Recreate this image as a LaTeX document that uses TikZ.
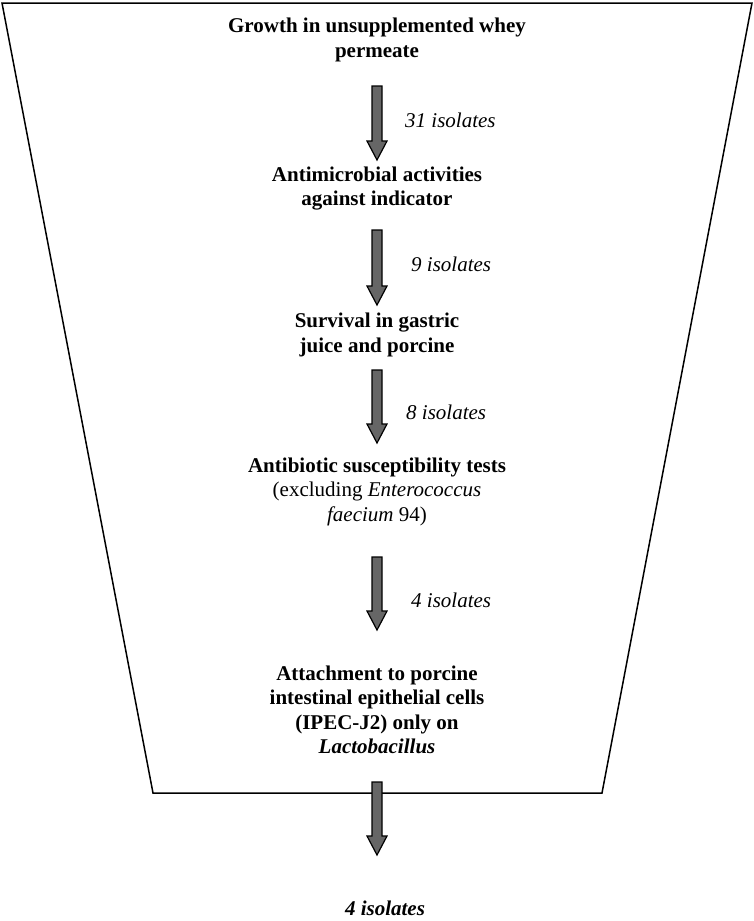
\documentclass[tikz,border=0pt]{standalone}
\usepackage{fontspec}
\setmainfont{Liberation Serif}
\usetikzlibrary{calc}
\definecolor{arrowgray}{RGB}{102,102,102}
\newcommand\blockarr[2]{\draw[blockarrow] ($(#1)+(-5,0)$) -- ($(#2)+(-5,-19)$) -- ($(#2)+(-10,-19)$) -- (#2) -- ($(#2)+(10,-19)$) -- ($(#2)+(5,-19)$) -- ($(#1)+(5,0)$) -- cycle;}
\begin{document}
\begin{tikzpicture}[x=1pt,y=-1pt,
  stage/.style={align=center, font=\bfseries\fontsize{21}{24.5}\selectfont, inner sep=0pt},
  count/.style={font=\itshape\fontsize{21}{24}\selectfont, inner sep=0pt, anchor=west},
  blockarrow/.style={draw=black, line width=1.2pt, fill=arrowgray, line join=miter}]
\useasboundingbox (0,0) rectangle (754,921);
\draw[line width=1.5pt, line join=miter] (2,3) -- (752,3) -- (602,793) -- (153,793) -- cycle;

\node[stage] (s1) at (377,40) {Growth in unsupplemented whey\\permeate};
\node[stage] (s2) at (377,188.5) {Antimicrobial activities\\against indicator};
\node[stage] (s3) at (377,335) {Survival in gastric\\juice and porcine};
\node[stage] (s4) at (377,491.5) {Antibiotic susceptibility tests\\{\mdseries (excluding \textit{Enterococcus}}\\{\mdseries\textit{faecium} 94)}};
\node[stage] (s5) at (377,710) {Attachment to porcine\\intestinal epithelial cells\\(IPEC-J2) only on\\\textit{Lactobacillus}};

\coordinate (a1s) at (377,86);  \coordinate (a1e) at (377,160);
\coordinate (a2s) at (377,230); \coordinate (a2e) at (377,305);
\coordinate (a3s) at (377,370); \coordinate (a3e) at (377,443);
\coordinate (a4s) at (377,557); \coordinate (a4e) at (377,630);
\coordinate (a5s) at (377,782); \coordinate (a5e) at (377,855);
\blockarr{a1s}{a1e}
\blockarr{a2s}{a2e}
\blockarr{a3s}{a3e}
\blockarr{a4s}{a4e}
\blockarr{a5s}{a5e}

\node[count] (c1) at (405,120) {31 isolates};
\node[count] (c2) at (411,264) {9 isolates};
\node[count] (c3) at (406,412) {8 isolates};
\node[count] (c4) at (411,600) {4 isolates};
\node[font=\bfseries\itshape\fontsize{21}{24}\selectfont, inner sep=0pt] (c5) at (385,908) {4 isolates};
\end{tikzpicture}
\end{document}
